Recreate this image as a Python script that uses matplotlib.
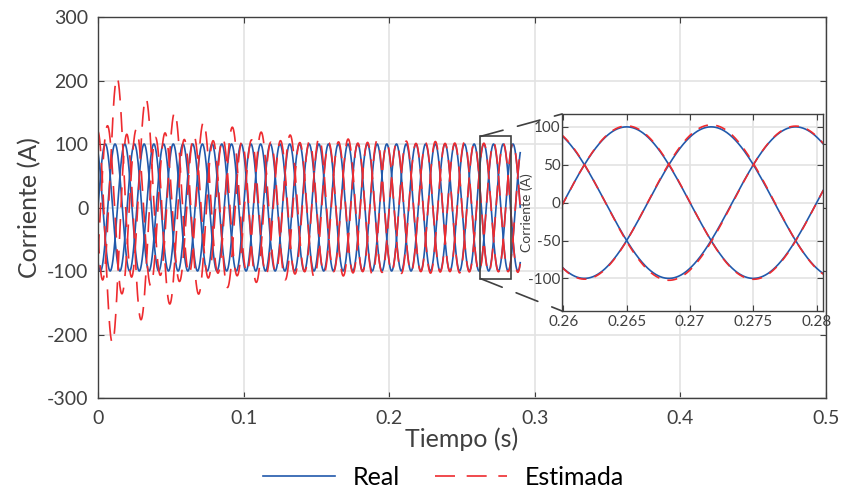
import numpy as np
import matplotlib
matplotlib.use("Agg")
import matplotlib.pyplot as plt
from matplotlib.patches import Rectangle, ConnectionPatch

plt.rcParams['font.family'] = ['Lato', 'DejaVu Sans']
plt.rcParams['axes.unicode_minus'] = False

# señales
t_end = 0.29          # fin de la simulación (s)
freq = 50.0           # Hz
amp_real = 100.0      # A
peak_a = 0.265        # instante de un máximo de la fase a (inset)

# envolventes de la corriente estimada (máximos / mínimos por ciclo)
env_t = [0.0, 0.011, 0.031, 0.051, 0.071, 0.091, 0.111, 0.15, 0.2, 0.29]
est_a_max = [130, 128, 122, 116, 112, 108, 106, 104, 102, 101]
est_a_min = [-150, -140, -125, -118, -112, -108, -106, -104, -102, -101]
est_b_max = [210, 208, 174, 151, 135, 127, 119, 110, 105, 102]
est_b_min = [-115, -112, -108, -106, -104, -103, -102, -101, -101, -101]
est_c_max = [120, 118, 112, 108, 106, 104, 103, 102, 101, 101]
est_c_min = [-215, -213, -174, -150, -135, -125, -117, -110, -104, -102]
est_lag_ms = [1.5, 1.5, 1.3, 1.0, 0.8, 0.6, 0.4, 0.2, 0.05, 0.0]

xticks_main = [0, 0.1, 0.2, 0.3, 0.4, 0.5]
xticklabels_main = ["0", "0.1", "0.2", "0.3", "0.4", "0.5"]
yticks_main = [-300, -200, -100, 0, 100, 200, 300]
xticks_ins = [0.26, 0.265, 0.27, 0.275, 0.28]
xticklabels_ins = ["0.26", "0.265", "0.27", "0.275", "0.28"]
yticks_ins = [-100, -50, 0, 50, 100]

blue = "#2159ab"
red = "#ee2b2f"
dark = "#404040"

t = np.arange(0, t_end, 2e-5)
w = 2 * np.pi * freq
shifts = [0, -2 * np.pi / 3, -4 * np.pi / 3]
real = [amp_real * np.cos(w * (t - peak_a) + s) for s in shifts]

lag = np.interp(t, env_t, est_lag_ms) * 1e-3
est = []
for s, mx, mn in zip(shifts, [est_a_max, est_b_max, est_c_max],
                     [est_a_min, est_b_min, est_c_min]):
    A = (np.interp(t, env_t, mx) - np.interp(t, env_t, mn)) / 2
    D = (np.interp(t, env_t, mx) + np.interp(t, env_t, mn)) / 2
    est.append(A * np.cos(w * (t - peak_a - lag) + s) + D)

fig = plt.figure(figsize=(8.43, 4.93), dpi=100)
ax = fig.add_axes([0.1163, 0.1927, 0.8635, 0.7728])


def style(a, size, xpad, ypad):
    a.tick_params(direction='in', top=True, right=True, labelsize=size,
                  colors=dark, length=4, width=0.8)
    a.tick_params(axis='x', pad=xpad)
    a.tick_params(axis='y', pad=ypad)
    for sp in a.spines.values():
        sp.set_color(dark)
        sp.set_linewidth(1.0)
    a.grid(True, color="#e3e3e3", linewidth=1.2)
    a.set_axisbelow(True)


for y in real:
    l1, = ax.plot(t, y, color=blue, lw=1.2)
for y in est:
    l2, = ax.plot(t, y, color=red, lw=1.2, dashes=(12, 7))

ax.set_xlim(0, 0.5)
ax.set_ylim(-300, 300)
ax.set_xticks(xticks_main)
ax.set_xticklabels(xticklabels_main)
ax.set_yticks(yticks_main)
style(ax, 14, 9, 7)
ax.set_xlabel("Tiempo (s)", fontsize=18, color=dark, labelpad=0)
ax.set_ylabel("Corriente (A)", fontsize=18, color=dark, labelpad=4)

# rectángulo de zoom
x0, x1, y0, y1 = 0.2627, 0.2838, -112, 112
ax.add_patch(Rectangle((x0, y0), x1 - x0, y1 - y0, fill=False,
                       edgecolor=dark, lw=1.2, zorder=5))

axins = fig.add_axes([0.6667, 0.3692, 0.3096, 0.3996])
for y in real:
    axins.plot(t, y, color=blue, lw=1.2)
for y in est:
    axins.plot(t, y, color=red, lw=1.2, dashes=(6, 5))
axins.set_xlim(0.2599, 0.2805)
axins.set_ylim(-143, 117)
axins.set_xticks(xticks_ins)
axins.set_xticklabels(xticklabels_ins)
axins.set_yticks(yticks_ins)
style(axins, 11, 3, 1)
axins.set_ylabel("Corriente (A)", fontsize=10, color=dark)
axins.yaxis.set_label_coords(-0.112, 0.5)

for yd, yi in [(y1, 1), (y0, 0)]:
    cp = ConnectionPatch(xyA=(x0, yd), coordsA=ax.transData,
                         xyB=(0, yi), coordsB=axins.transAxes,
                         color=dark, lw=1.2, linestyle=(0, (14, 9)))
    fig.add_artist(cp)

fig.legend([l1, l2], ["Real", "Estimada"], loc='center',
           bbox_to_anchor=(0.526, 0.032), ncol=2, frameon=False,
           fontsize=18, handlelength=2.9, handletextpad=0.7,
           columnspacing=1.4)

fig.savefig("out.png", dpi=100)
